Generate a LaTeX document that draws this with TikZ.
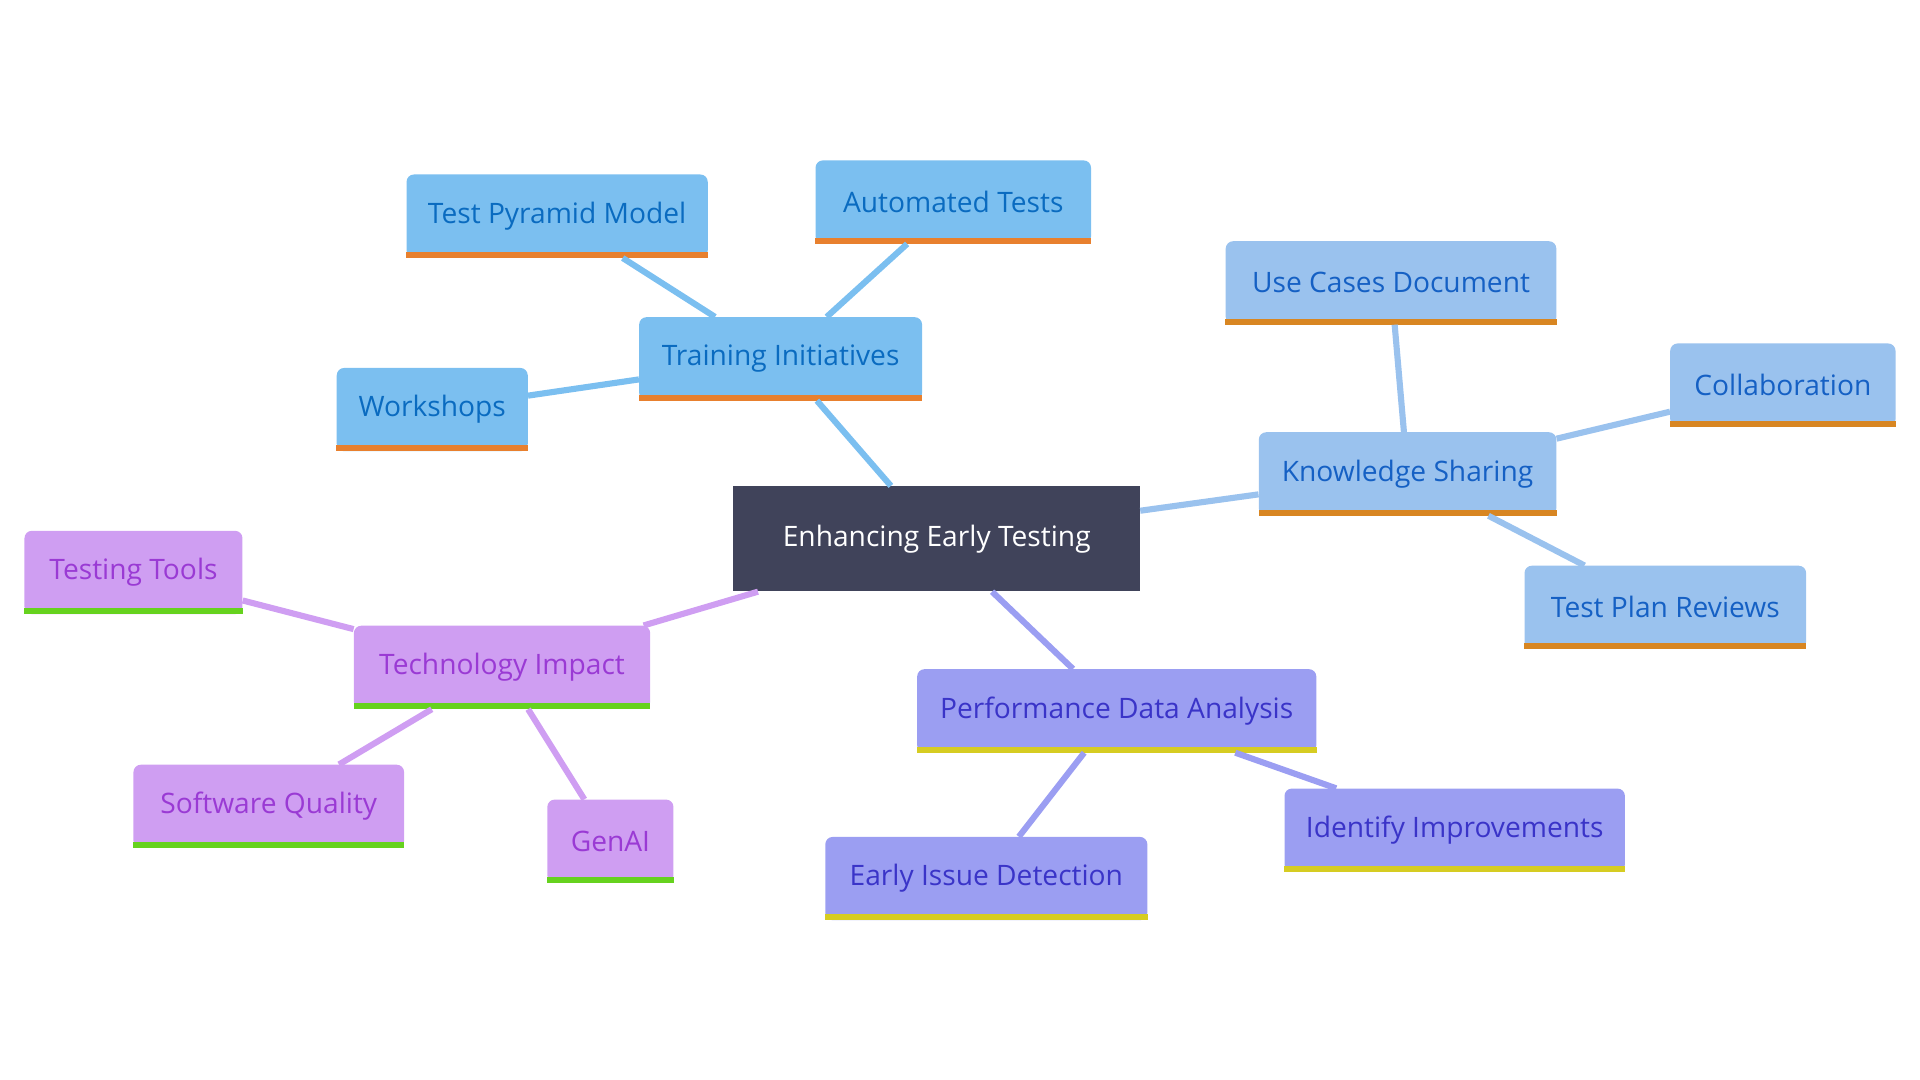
\documentclass[tikz,border=0pt]{standalone}
\usepackage{fontspec}
\setmainfont{Open Sans}
\usetikzlibrary{calc}

\definecolor{rootfill}{HTML}{40435A}
\definecolor{trainfill}{HTML}{7BBFF0}
\definecolor{traintext}{HTML}{0A6BC0}
\definecolor{trainbar}{HTML}{E8802E}
\definecolor{knowfill}{HTML}{9AC2EE}
\definecolor{knowtext}{HTML}{1560C4}
\definecolor{knowbar}{HTML}{D88622}
\definecolor{perffill}{HTML}{9B9EF2}
\definecolor{perftext}{HTML}{3A34C8}
\definecolor{perfbar}{HTML}{D6CC22}
\definecolor{techfill}{HTML}{CF9EF2}
\definecolor{techtext}{HTML}{9A3AD4}
\definecolor{techbar}{HTML}{66D21E}

\begin{document}
\begin{tikzpicture}[x=1pt, y=-1pt,
		box/.style={rectangle, rounded corners=6pt, minimum height=68pt, inner sep=0pt, font=\fontsize{23}{26}\selectfont},
		trainbox/.style={box, fill=trainfill, text=traintext},
		knowbox/.style={box, fill=knowfill, text=knowtext},
		perfbox/.style={box, fill=perffill, text=perftext},
		techbox/.style={box, fill=techfill, text=techtext},
		trainline/.style={line width=5pt, draw=trainfill},
		knowline/.style={line width=5pt, draw=knowfill},
		perfline/.style={line width=5pt, draw=perffill},
		techline/.style={line width=5pt, draw=techfill}]
						
						\useasboundingbox (0,0) rectangle (1568,882);
						
						% Root
						\node[rectangle, fill=rootfill, text=white, minimum width=332pt, minimum height=86pt, font=\fontsize{23}{26}\selectfont] (root) at (765,440) {Enhancing Early Testing};
						
						% Training branch
						\node[trainbox, minimum width=231pt] (train) at (637.5,293) {Training Initiatives};
						\node[trainbox, minimum width=246pt] (pyramid) at (455,176.5) {Test Pyramid Model};
						\node[trainbox, minimum width=225pt] (autotests) at (778.5,165) {Automated Tests};
						\node[trainbox, minimum width=156pt] (workshops) at (353,334.5) {Workshops};
						
						% Knowledge branch
						\node[knowbox, minimum width=243pt] (know) at (1149.5,387) {Knowledge Sharing};
						\node[knowbox, minimum width=270pt] (usecases) at (1136,231) {Use Cases Document};
						\node[knowbox, minimum width=184pt] (collab) at (1456,314.5) {Collaboration};
						\node[knowbox, minimum width=230pt] (planrev) at (1360,496) {Test Plan Reviews};
						
						% Performance branch
						\node[perfbox, minimum width=326pt] (perf) at (912,580.5) {Performance Data Analysis};
						\node[perfbox, minimum width=278pt] (improve) at (1188,678) {Identify Improvements};
						\node[perfbox, minimum width=263pt] (earlyissue) at (805.5,717.5) {Early Issue Detection};
						
						% Technology branch
						\node[techbox, minimum width=242pt] (tech) at (410,545) {Technology Impact};
						\node[techbox, minimum width=178pt] (tools) at (109,467.5) {Testing Tools};
						\node[techbox, minimum width=221pt] (softq) at (219.5,658.5) {Software Quality};
						\node[techbox, minimum width=103pt] (genai) at (498.5,687) {GenAI};
						
						% Bottom bars
						\foreach \n in {train,pyramid,autotests,workshops}
							\fill[trainbar] ($(\n.south west)+(0,-5)$) rectangle (\n.south east);
						\foreach \n in {know,usecases,collab,planrev}
							\fill[knowbar] ($(\n.south west)+(0,-5)$) rectangle (\n.south east);
						\foreach \n in {perf,improve,earlyissue}
							\fill[perfbar] ($(\n.south west)+(0,-5)$) rectangle (\n.south east);
						\foreach \n in {tech,tools,softq,genai}
							\fill[techbar] ($(\n.south west)+(0,-5)$) rectangle (\n.south east);
						
						% Edges
						\draw[trainline] (root) -- (train);
						\draw[trainline] (train) -- (pyramid);
						\draw[trainline] (train) -- (autotests);
						\draw[trainline] (train) -- (workshops);
						
						\draw[knowline] (root) -- (know);
						\draw[knowline] (know) -- (usecases);
						\draw[knowline] (know) -- (collab);
						\draw[knowline] (know) -- (planrev);
						
						\draw[perfline] (root) -- (perf);
						\draw[perfline] (perf) -- (improve);
						\draw[perfline] (perf) -- (earlyissue);
						
						\draw[techline] (root) -- (tech);
						\draw[techline] (tech) -- (tools);
						\draw[techline] (tech) -- (softq);
						\draw[techline] (tech) -- (genai);
						
					\end{tikzpicture}
\end{document}
